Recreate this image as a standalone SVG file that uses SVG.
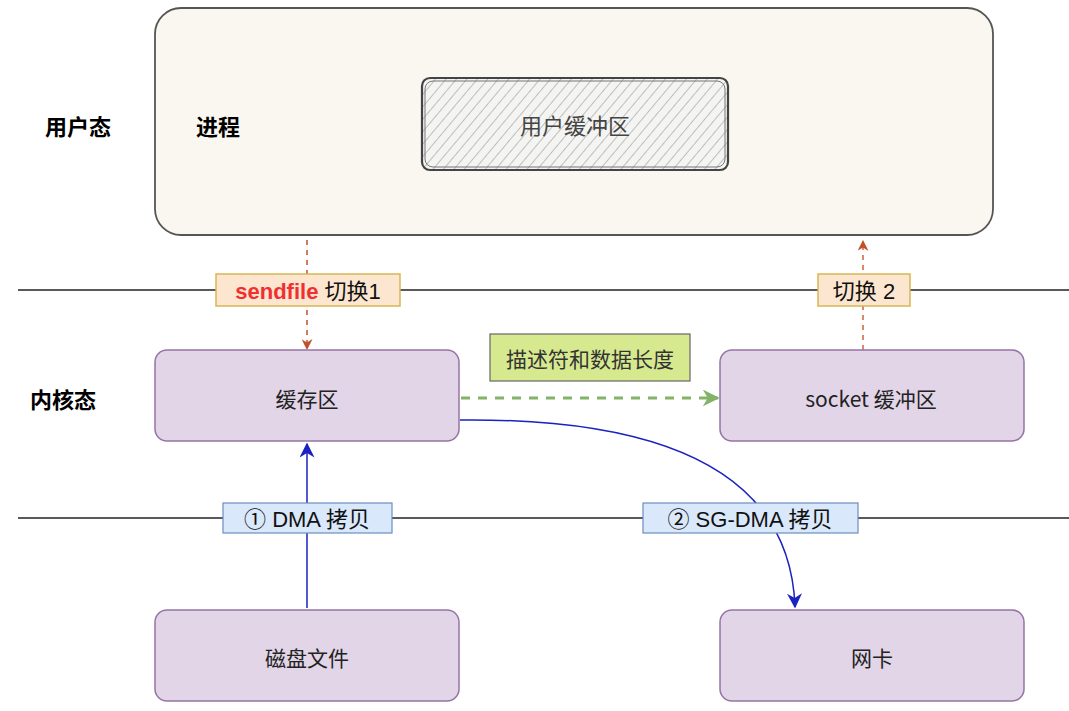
<svg xmlns="http://www.w3.org/2000/svg" width="1069" height="711" viewBox="0 0 1069 711">
<defs>
<style>
.t{font-family:"Noto Sans CJK SC","Liberation Sans",sans-serif;font-size:21px;fill:#222;text-anchor:middle;dominant-baseline:central}
.b{font-weight:bold;fill:#000;font-size:22px}
.p{fill:#e1d5e7;stroke:#9673a6;stroke-width:1.5}
.axis{stroke:#222;stroke-width:1.3}
.lbl{font-family:"Liberation Sans","Noto Sans CJK SC",sans-serif;font-size:22px;fill:#111;text-anchor:middle;dominant-baseline:central}
</style>
<pattern id="hatch" width="8" height="8" patternUnits="userSpaceOnUse" patternTransform="rotate(40)">
<rect width="8" height="8" fill="#f4f4f2"/>
<line x1="0" y1="0" x2="0" y2="8" stroke="#999" stroke-width="1.2"/>
</pattern>
<marker id="ar" viewBox="0 0 10 10" refX="9" refY="5" markerWidth="11" markerHeight="11" orient="auto" markerUnits="userSpaceOnUse"><path d="M0,0 L10,5 L0,10 L3,5 Z" fill="#c0502a"/></marker>
<marker id="ab" viewBox="0 0 10 10" refX="9" refY="5" markerWidth="15" markerHeight="15" orient="auto" markerUnits="userSpaceOnUse"><path d="M0,0 L10,5 L0,10 L3,5 Z" fill="#1a22c0"/></marker>
<marker id="ag" viewBox="0 0 10 10" refX="9" refY="5" markerWidth="17" markerHeight="17" orient="auto" markerUnits="userSpaceOnUse"><path d="M0,0 L10,5 L0,10 L3,5 Z" fill="#82b366"/></marker>
</defs>
<rect width="1069" height="711" fill="#fff"/>

<g id="axes">
<line class="axis" x1="18" y1="290" x2="1069" y2="290"/>
<line class="axis" x1="18" y1="518" x2="1069" y2="518"/>
</g>

<g id="process">
<rect x="155" y="8" width="838" height="227" rx="26" fill="#f9f7ef" stroke="#555" stroke-width="1.8"/>
<text class="t b" x="218" y="125">进程</text>
</g>
<g id="user-buffer">
<rect x="422" y="78" width="306" height="92" rx="8" fill="url(#hatch)" stroke="#444" stroke-width="2.2"/>
<rect x="425" y="81" width="300" height="86" rx="8" fill="none" stroke="#777" stroke-width="1"/>
<text class="t" x="575" y="124" style="fill:#444;font-size:22px">用户缓冲区</text>
</g>
<g id="label-user"><text class="t b" x="78" y="125">用户态</text></g>
<g id="label-kernel"><text class="t b" x="63" y="398">内核态</text></g>

<g id="connectors">
<line x1="307" y1="240" x2="307" y2="349" stroke="#c0502a" stroke-width="1.5" stroke-dasharray="5 5" marker-end="url(#ar)"/>
<line x1="863" y1="350" x2="863" y2="241" stroke="#d0603a" stroke-width="1.5" stroke-dasharray="5 5" marker-end="url(#ar)"/>
<line x1="461" y1="398" x2="718" y2="398" stroke="#82b366" stroke-width="3" stroke-dasharray="9 8" marker-end="url(#ag)"/>
<line x1="307" y1="608" x2="307" y2="444" stroke="#1a22c0" stroke-width="1.5" marker-end="url(#ab)"/>
<path d="M460 420 C 660 418, 790 470, 795 607" fill="none" stroke="#1a22c0" stroke-width="1.5" marker-end="url(#ab)"/>
</g>

<g id="cache">
<rect class="p" x="155" y="350" width="304" height="91" rx="12"/>
<text class="t" x="307" y="398">缓存区</text>
</g>
<g id="socket-buffer">
<rect class="p" x="720" y="350" width="304" height="91" rx="12"/>
<text class="t" x="871" y="398">socket 缓冲区</text>
</g>
<g id="disk">
<rect class="p" x="155" y="610" width="304" height="91" rx="12"/>
<text class="t" x="307" y="657">磁盘文件</text>
</g>
<g id="nic">
<rect class="p" x="720" y="610" width="304" height="91" rx="12"/>
<text class="t" x="872" y="657">网卡</text>
</g>

<g id="label-sendfile">
<rect x="216" y="274" width="184" height="32" fill="#fde6d0" stroke="#d6b656" stroke-width="1.5"/>
<text class="lbl" x="308" y="291"><tspan fill="#f03030" font-weight="bold">sendfile</tspan> 切换1</text>
</g>
<g id="label-switch2">
<rect x="818" y="274" width="92" height="32" fill="#fde6d0" stroke="#d6b656" stroke-width="1.5"/>
<text class="lbl" x="864" y="291">切换 2</text>
</g>
<g id="label-desc">
<rect x="490" y="334" width="200" height="47" fill="#d6e98f" stroke="#666" stroke-width="1.2"/>
<text class="t" x="590" y="358" style="fill:#333">描述符和数据长度</text>
</g>
<g id="label-dma">
<rect x="223" y="503" width="169" height="30" fill="#dae8fc" stroke="#6c8ebf" stroke-width="1.2"/>
<text class="lbl" x="307" y="519">① DMA 拷贝</text>
</g>
<g id="label-sgdma">
<rect x="643" y="503" width="215" height="30" fill="#dae8fc" stroke="#6c8ebf" stroke-width="1.2"/>
<text class="lbl" x="750" y="519">② SG-DMA 拷贝</text>
</g>
</svg>
